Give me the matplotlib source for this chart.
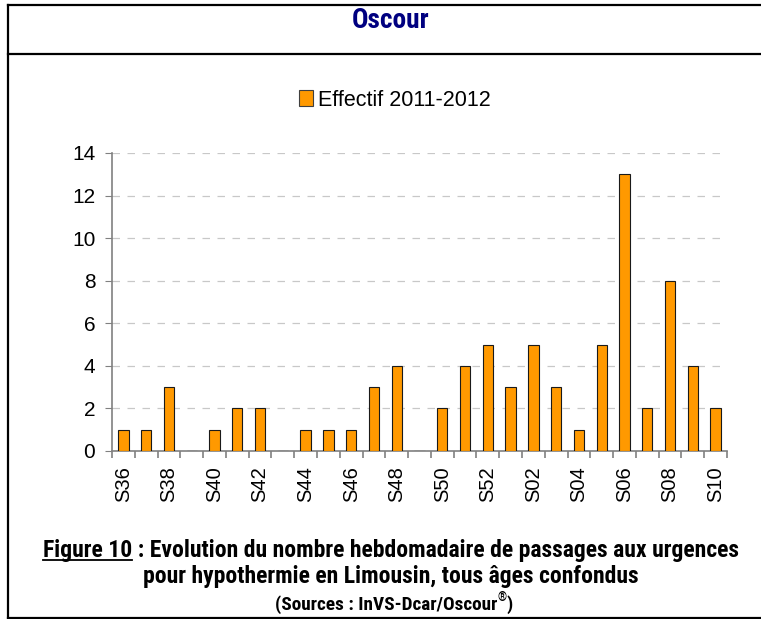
import matplotlib
matplotlib.use("Agg")
import matplotlib.pyplot as plt
from matplotlib.lines import Line2D
from matplotlib.patches import Patch
from matplotlib import font_manager as fm
import numpy as np
import os

weeks = ["S36", "S37", "S38", "S39", "S40", "S41", "S42", "S43", "S44", "S45",
         "S46", "S47", "S48", "S49", "S50", "S51", "S52", "S01", "S02", "S03",
         "S04", "S05", "S06", "S07", "S08", "S09", "S10"]
effectif = [1, 1, 3, 0, 1, 2, 2, 0, 1, 1, 1, 3, 4, 0, 2, 4, 5, 3, 5, 3,
            1, 5, 13, 2, 8, 4, 2]
series_label = "Effectif 2011-2012"
title = "Oscour"
caption1_u = "Figure 10"
caption1_rest = " : Evolution du nombre hebdomadaire de passages aux urgences"
caption2 = "pour hypothermie en Limousin, tous âges confondus"
caption3 = "(Sources : InVS-Dcar/Oscour"

# ---- pick a condensed bold font if one is installed ----
def find_condensed():
    prefs = ["liberationsansnarrow-bold", "robotocondensed-bold", "opensanscondensed-bold",
             "opensans_condensed-bold", "notosanscondensed-bold", "notosans-condensedbold",
             "dejavusanscondensed-bold"]
    files = {}
    for f in fm.fontManager.ttflist:
        files[os.path.basename(f.fname).lower().replace(" ", "")] = f.fname
    for p in prefs:
        for k, v in files.items():
            if k.startswith(p) and "italic" not in k and "oblique" not in k:
                return v
    for k, v in files.items():
        if ("condensed" in k or "narrow" in k) and "bold" in k and "italic" not in k \
                and "oblique" not in k and "semibold" not in k and "extra" not in k:
            return v
    return None

cfile = find_condensed()

def cprop(size):
    if cfile:
        fp = fm.FontProperties(fname=cfile, size=size)
    else:
        fp = fm.FontProperties(family="DejaVu Sans", weight="bold", stretch="condensed", size=size)
    return fp

W, H = 761, 619
fig = plt.figure(figsize=(W / 100, H / 100), dpi=100)
fig.patch.set_facecolor("white")
plt.rcParams["font.family"] = ["Liberation Sans", "DejaVu Sans"]

def fx(px):
    return px / W

def fy(py):
    return 1 - py / H

# frame lines
for (x0, y0, x1, y1) in [(8, 5, 8, 618), (8, 5, 761, 5), (8, 54, 761, 54), (8, 618, 761, 618)]:
    fig.add_artist(Line2D([fx(x0), fx(x1)], [fy(y0), fy(y1)], color="black", lw=1.6,
                          transform=fig.transFigure))

ax = fig.add_axes([fx(112), fy(451), fx(727) - fx(112), fy(153) - fy(451)])
x = np.arange(len(weeks))
ax.bar(x, effectif, width=0.45, color="#FF9900", edgecolor="#1a1a1a", linewidth=0.8,
       zorder=3, label=series_label)
ax.set_xlim(-0.5, len(weeks) - 0.5)
ax.set_ylim(0, 14)
ax.set_yticks(np.arange(0, 15, 2))
ax.yaxis.grid(True, color="#C8C8C8", linestyle=(0, (6, 6)), linewidth=0.9, zorder=0)
for s in ["top", "right"]:
    ax.spines[s].set_visible(False)
for s in ["left", "bottom"]:
    ax.spines[s].set_color("#808080")
    ax.spines[s].set_linewidth(1.2)
ax.tick_params(axis="y", length=5, color="#808080", labelsize=15, pad=7)
ax.set_xticks(x[::2])
ax.set_xticklabels(weeks[::2], rotation=90, fontsize=14.5)
ax.set_xticks(np.arange(-0.5, len(weeks) + 0.5, 1), minor=True)
ax.tick_params(axis="x", which="major", length=0, pad=11)
ax.tick_params(axis="x", which="minor", length=5, color="#808080", width=1.2)

fig.legend(handles=[Patch(facecolor="#FF9900", edgecolor="#404040", linewidth=0.8)],
           labels=[series_label], loc="center", bbox_to_anchor=(fx(395), fy(100)),
           frameon=False, fontsize=15.5, handlelength=0.65, handleheight=0.8,
           handletextpad=0.25)

fig.canvas.draw()
r = fig.canvas.get_renderer()

def fit_size(text, target_w, base=15.0):
    t = fig.text(0, 0, text, fontproperties=cprop(base))
    w = t.get_window_extent(renderer=r).width
    t.remove()
    return base * target_w / w

# title
tsz = min(fit_size(title, 78), 22)
fig.text(fx(391), fy(21), title, ha="center", va="center", fontproperties=cprop(tsz),
         color="#000080")

# captions
cap_fs = min(fit_size(caption1_u + caption1_rest, 717), 17)
full = fig.text(fx(391), fy(550), caption1_u + caption1_rest, ha="center", va="center",
                fontproperties=cprop(cap_fs))
bb = full.get_window_extent(renderer=r)
tmp = fig.text(0, 0, caption1_u, fontproperties=cprop(cap_fs))
wb = tmp.get_window_extent(renderer=r)
tmp.remove()
fig.add_artist(Line2D([bb.x0 / W, (bb.x0 + wb.width) / W],
                      [(bb.y0 + 2) / H, (bb.y0 + 2) / H], color="black", lw=1.3,
                      transform=fig.transFigure))
fig.text(fx(391), fy(577), caption2, ha="center", va="center",
         fontproperties=cprop(cap_fs))
c3_fs = fit_size(caption3 + "®)", 244)
c3 = fig.text(fx(386), fy(605), caption3, ha="center", va="center",
              fontproperties=cprop(c3_fs))
b3 = c3.get_window_extent(renderer=r)
reg = fig.text(b3.x1 / W, (b3.y1 - 2) / H, "®", ha="left", va="center",
               fontproperties=cprop(c3_fs * 0.6))
br = reg.get_window_extent(renderer=r)
fig.text(br.x1 / W, b3.y0 / H, ")", ha="left", va="bottom", fontproperties=cprop(c3_fs))

fig.savefig("out.png", dpi=100, facecolor="white")
